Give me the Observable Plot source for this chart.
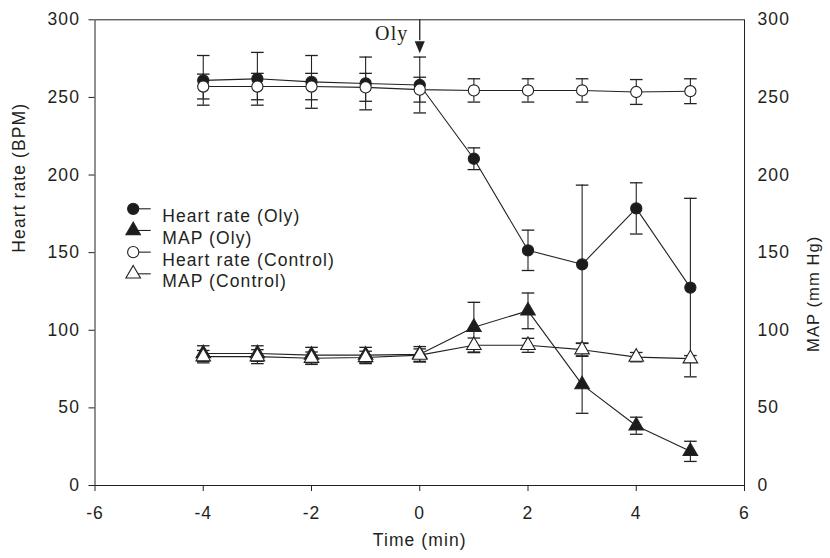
<!DOCTYPE html>
<html><head><meta charset="utf-8">
<script src="https://cdn.jsdelivr.net/npm/d3@7"></script>
<script src="https://cdn.jsdelivr.net/npm/@observablehq/plot@0.6"></script>
<style>
html,body{margin:0;padding:0;background:#fff;}
#chart{width:830px;height:558px;}
</style>
</head><body><div id="chart"></div>
<script>
// ---- data ----
const times = [-4, -3, -2, -1, 0, 1, 2, 3, 4, 5];
const hrOly      = [261, 262, 260, 259, 258, 210.5, 151.5, 142.5, 178.5, 127.5];
const hrOlyErr   = [16, 17, 17, 17, 18, 7, 13, 51, 16.5, 57.5];
const mapOly     = [85, 85, 84, 84, 84.5, 102, 112.5, 65, 38.5, 22];
const mapOlyErr  = [5, 5, 5, 5, 5, 16, 11.5, 18.5, 5.5, 6.5];
const hrCtl      = [257, 257, 257, 256.5, 255, 254.5, 254.5, 254.5, 253.5, 254];
const hrCtlErr   = [8, 8.5, 8.5, 9, 8, 7.5, 7.5, 7.5, 8, 8];
const mapCtl     = [83, 83, 82, 82.5, 84, 90.3, 90.3, 87.5, 82.7, 81.7];
const mapCtlErr  = [4, 4.5, 4, 4, 4, 4.7, 4.5, 4.3, 3, 2];

const seriesNames   = ["Heart rate (Oly)", "MAP (Oly)", "Heart rate (Control)", "MAP (Control)"];
const seriesValues  = [hrOly, mapOly, hrCtl, mapCtl];
const seriesErrors  = [hrOlyErr, mapOlyErr, hrCtlErr, mapCtlErr];
const seriesSymbols = ["circle", "triangle", "circle", "triangle"];
const seriesFills   = ["#1c1c1c", "#1c1c1c", "#ffffff", "#ffffff"];

const xTicks = [-6, -4, -2, 0, 2, 4, 6];
const yTicks = [0, 50, 100, 150, 200, 250, 300];
const xLabel = "Time (min)";
const yLeftLabel = "Heart rate (BPM)";
const yRightLabel = "MAP (mm Hg)";
const annotation = "Oly";
const annotationX = 0;
const arrowTop = 300;
const arrowTip = 278.5;

// ---- build table ----
const rows = seriesNames.flatMap((name, s) => times.map((t, i) => ({
  series: name, s, x: t, y: seriesValues[s][i],
  lo: seriesValues[s][i] - seriesErrors[s][i],
  hi: seriesValues[s][i] + seriesErrors[s][i]
})));

const ink = "#222";
const capSymbol = {draw(ctx, size) { const r = Math.sqrt(size / Math.PI); ctx.moveTo(-r, 0); ctx.lineTo(r, 0); }};
const legendLineSymbol = {draw(ctx, size) { const r = Math.sqrt(size / Math.PI); ctx.moveTo(0, 0); ctx.lineTo(r, 0); }};
const arrowHeadSymbol = {draw(ctx, size) { const r = Math.sqrt(size / Math.PI); ctx.moveTo(0, 0); ctx.lineTo(-r * 0.42, -r); ctx.lineTo(r * 0.42, -r); ctx.closePath(); }};
const markerR = sym => sym === "circle" ? 5.6 : 5.4;

const marks = [
  Plot.frame({stroke: ink}),
  Plot.axisY({anchor: "left", ticks: yTicks, tickSize: 6, tickPadding: 9, label: null, stroke: ink}),
  Plot.axisY({anchor: "right", ticks: yTicks, tickSize: 0, tickPadding: 13, label: null}),
  Plot.axisX({ticks: xTicks, tickSize: 6, tickPadding: 15, label: null, tickFormat: d => String(d), stroke: ink}),
  Plot.text([xLabel], {frameAnchor: "bottom", dy: 60.5, text: d => d}),
  Plot.text([yLeftLabel], {frameAnchor: "left", rotate: -90, dx: -75.5, text: d => d}),
  Plot.text([yRightLabel], {frameAnchor: "right", rotate: -90, dx: 69, dy: -17, text: d => d, fontSize: 16.5}),
  // annotation arrow
  Plot.ruleX([annotationX], {x: d => d, y1: arrowTop, y2: arrowTip + 8, stroke: ink, strokeWidth: 1.3}),
  Plot.dot([annotationX], {x: d => d, y: arrowTip, symbol: arrowHeadSymbol, r: 12, fill: ink, stroke: "none"}),
  Plot.text([annotation], {x: annotationX, y: arrowTop, text: d => d, dx: -28, dy: 13.5,
    fontFamily: "'Liberation Serif', 'Times New Roman', serif", fontSize: 20, letterSpacing: "0px"}),
  // lines
  Plot.line(rows, {x: "x", y: "y", z: "series", stroke: ink, strokeWidth: 1.1}),
  // error bars
  Plot.ruleX(rows, {x: "x", y1: "lo", y2: "hi", stroke: ink, strokeWidth: 1.1}),
  Plot.dot(rows, {x: "x", y: "hi", symbol: capSymbol, r: 6.3, stroke: ink, strokeWidth: 1.3, fill: "none"}),
  Plot.dot(rows, {x: "x", y: "lo", symbol: capSymbol, r: 6.3, stroke: ink, strokeWidth: 1.3, fill: "none"}),
];

// markers, series by series
seriesNames.forEach((name, s) => {
  marks.push(Plot.dot(rows.filter(d => d.s === s), {
    x: "x", y: "y", symbol: seriesSymbols[s], r: markerR(seriesSymbols[s]),
    fill: seriesFills[s], stroke: ink, strokeWidth: 1.1
  }));
});

// legend
seriesNames.forEach((name, s) => {
  const dy = 189 + s * 21.67;
  marks.push(Plot.dot([name], {frameAnchor: "top-left", dx: 38.2, dy, symbol: legendLineSymbol, r: 17.5, stroke: ink, strokeWidth: 1.1}));
  marks.push(Plot.dot([name], {frameAnchor: "top-left", dx: 38.2, dy, symbol: seriesSymbols[s], r: markerR(seriesSymbols[s]), fill: seriesFills[s], stroke: ink, strokeWidth: 1.1}));
  marks.push(Plot.text([name], {frameAnchor: "top-left", dx: 67.2, dy: dy + 1, textAnchor: "start", text: d => d}));
});

const chart = Plot.plot({
  width: 830, height: 558,
  marginLeft: 94.5, marginRight: 86, marginTop: 19.3, marginBottom: 73,
  x: {domain: [-6, 6]},
  y: {domain: [0, 300]},
  style: {fontFamily: "'Liberation Sans', Arial, sans-serif", fontSize: "17.5px", color: "#231f20", background: "#fff", letterSpacing: "1.1px"},
  marks
});
document.getElementById("chart").appendChild(chart);
</script>
</body></html>
